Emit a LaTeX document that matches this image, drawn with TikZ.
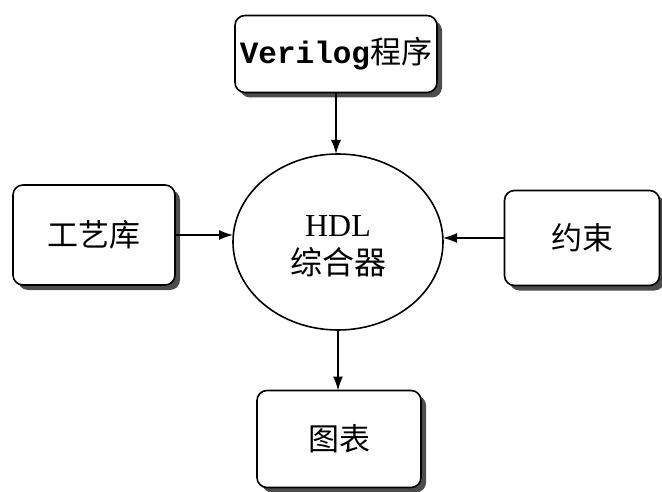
\documentclass[tikz,border=0pt]{standalone}
\usepackage{fontspec}
\setmainfont{Liberation Serif}
\newfontfamily\cjk{Noto Sans CJK SC}
\newfontfamily\vmono{Liberation Mono}
\usetikzlibrary{arrows.meta, shapes.geometric, shadows}

\tikzset{
  box/.style={draw, line width=1.6pt, rounded corners=10pt, fill=white,
    inner sep=0pt, outer sep=0pt,
    drop shadow={shadow xshift=5pt, shadow yshift=-5pt, fill=black!70, opacity=1},
    font=\fontsize{31}{36}\selectfont\cjk},
  synth/.style={draw, line width=1.6pt, ellipse, inner sep=0pt, outer sep=0pt,
    minimum width=210pt, minimum height=176pt, align=center,
    font=\fontsize{32}{38}\selectfont},
  flow/.style={-{Latex[length=14pt, width=10pt]}, line width=1.5pt}
}

\begin{document}
\begin{tikzpicture}[x=1pt, y=-1pt]
\useasboundingbox (0,0) rectangle (662,492);
\path
(336,54) node[box, minimum width=202pt, minimum height=77pt] (verilog) {{\vmono\bfseries Verilog}程序};
\path
(94,235) node[box, minimum width=162pt, minimum height=100pt] (lib) {工艺库};
\path
(582,238) node[box, minimum width=155pt, minimum height=95pt] (cons) {约束};
\path
(338,242) node[synth] (hdl) {};
\path
(hdl.center) ++(0,4) node[font=\fontsize{32}{38}\selectfont, align=center] (hdltext) {HDL\\{\cjk 综合器}};
\path
(339,439) node[box, minimum width=164pt, minimum height=97pt] (chart) {图表};
\draw[flow] (verilog.south) -- (verilog.south |- hdl.north);
\draw[flow] (lib.east) -- (lib.east -| hdl.west);
\draw[flow] (cons.west) -- (cons.west -| hdl.east);
\draw[flow] (hdl.south) -- (hdl.south |- chart.north);
\end{tikzpicture}
\end{document}
